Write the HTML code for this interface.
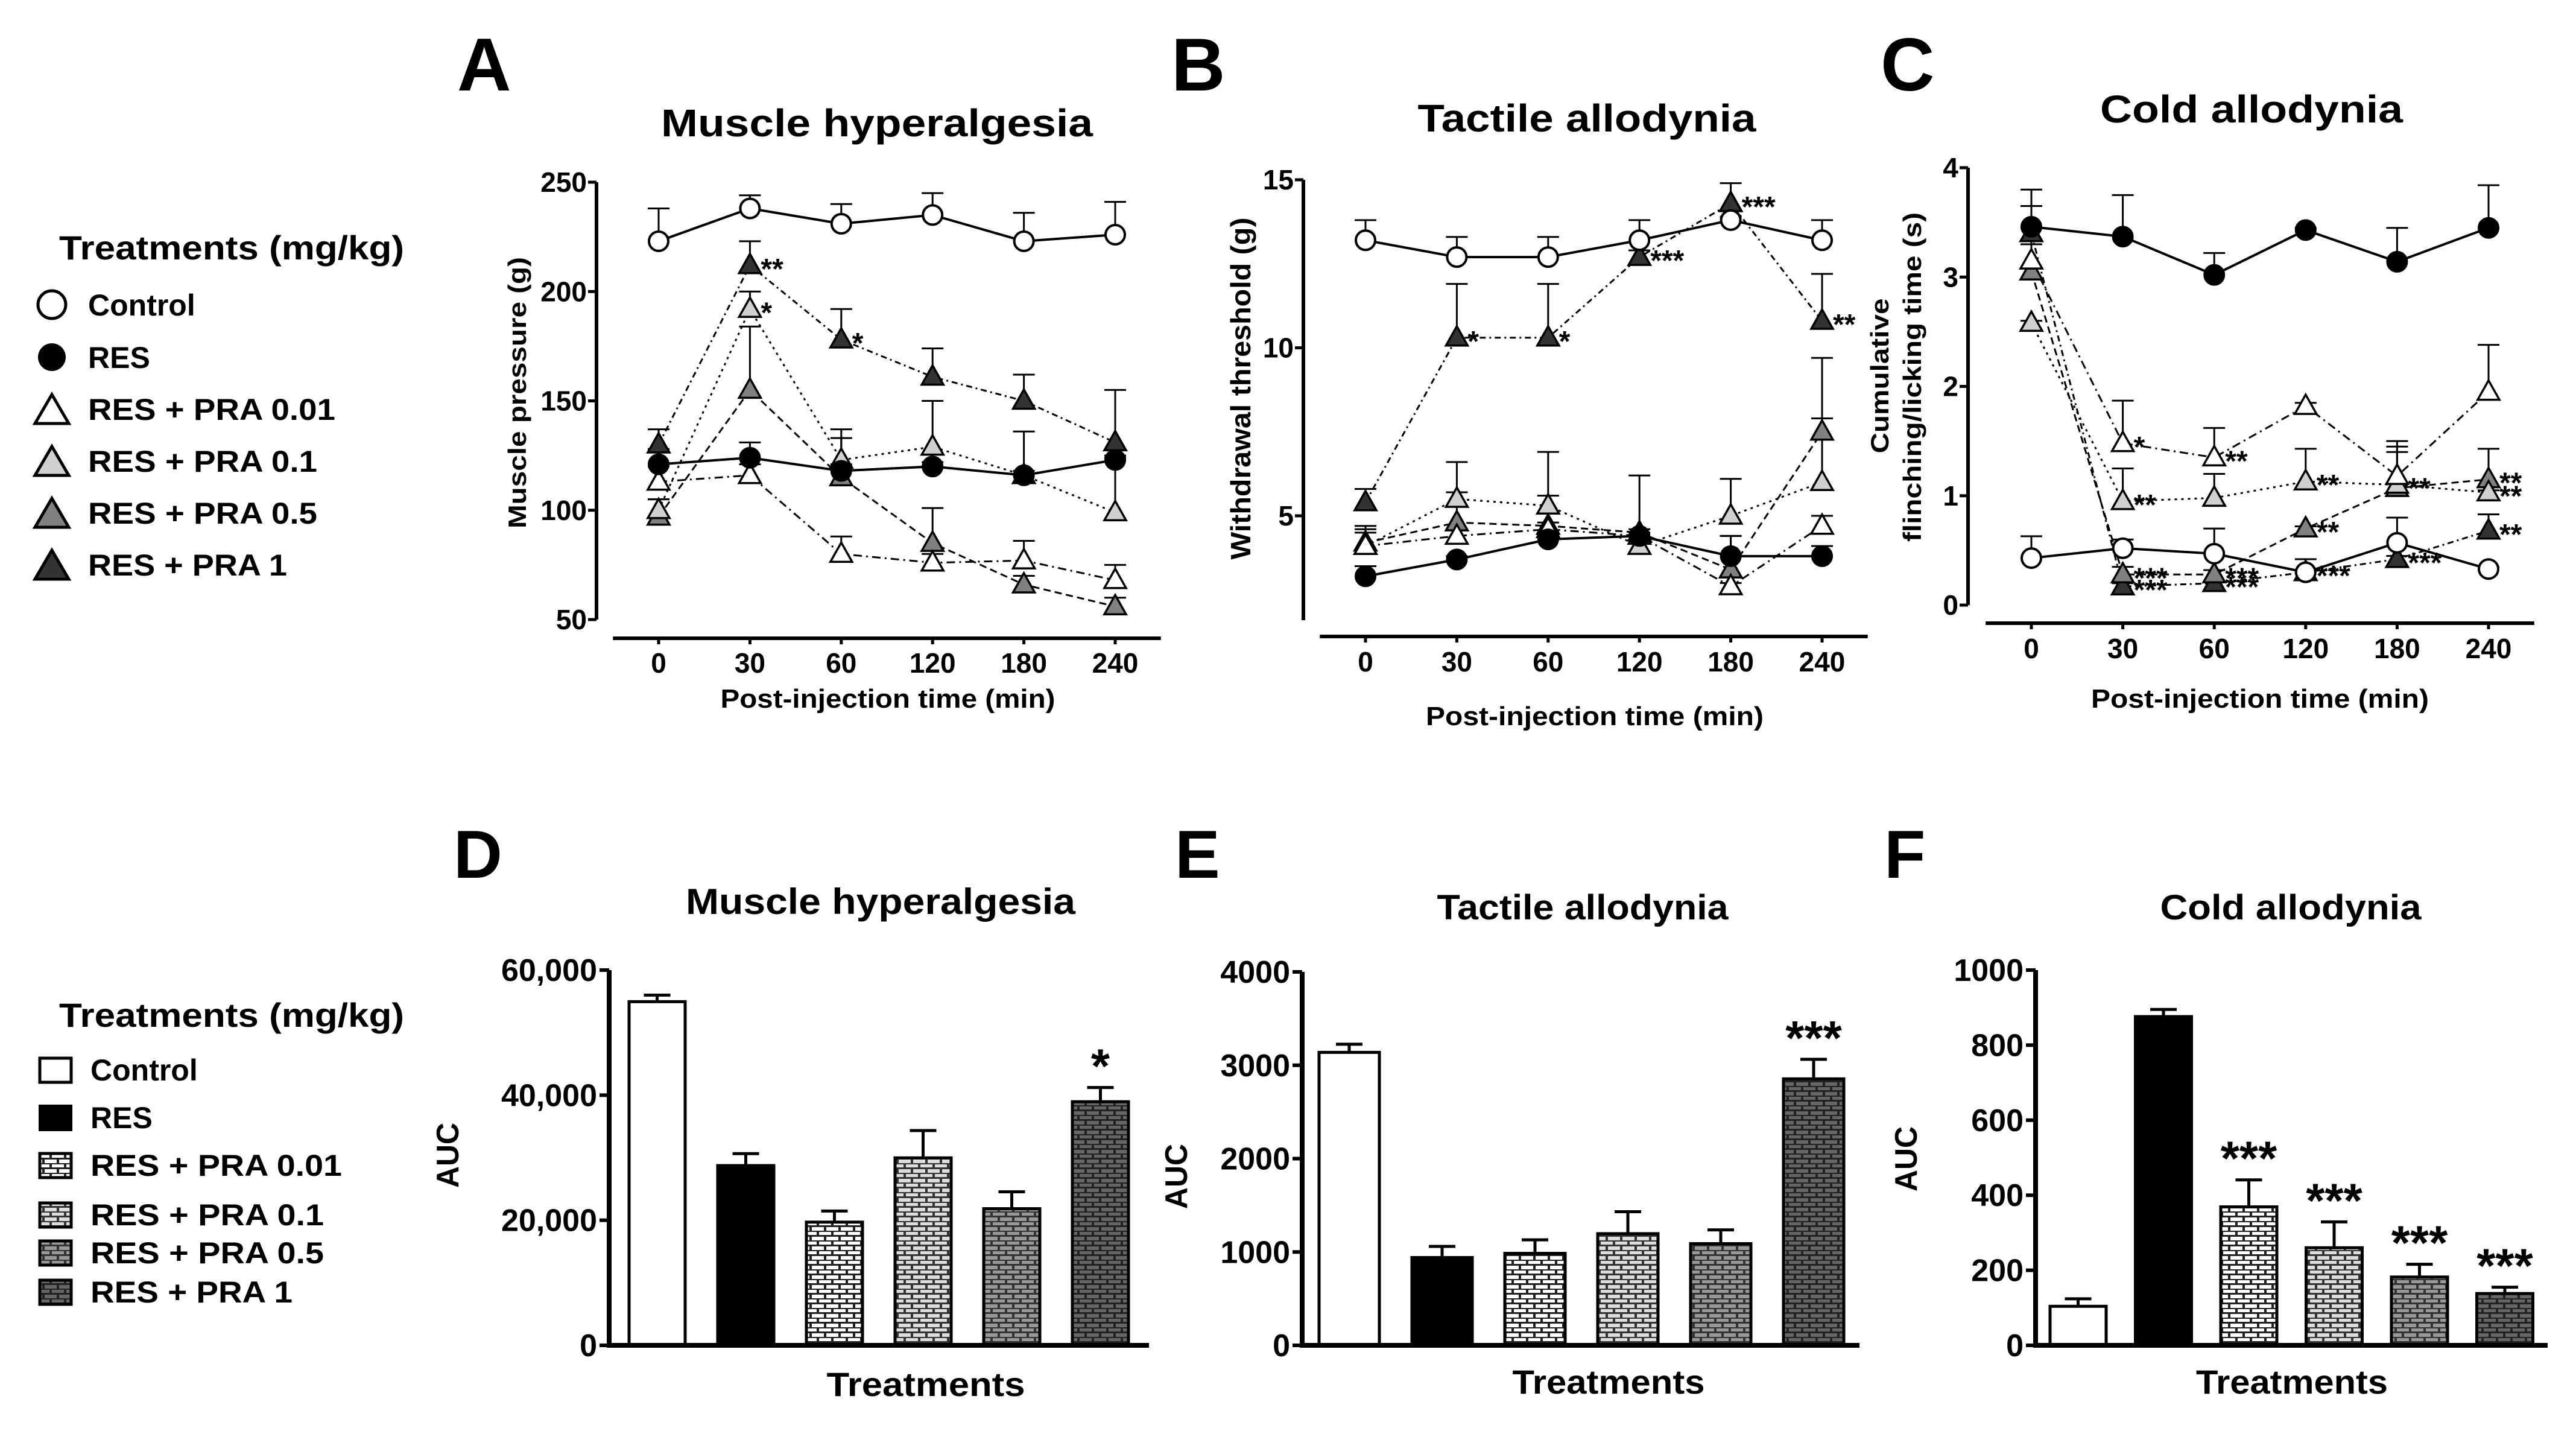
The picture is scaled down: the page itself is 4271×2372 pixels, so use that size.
<!DOCTYPE html>
<html><head><meta charset="utf-8">
<style>
html,body{margin:0;padding:0;background:#fff;}
svg{display:block;font-family:"Liberation Sans",Arial,sans-serif;font-weight:bold;}
</style></head>
<body>
<svg id="fig" width="4271" height="2372" viewBox="0 0 4271 2372" xmlns="http://www.w3.org/2000/svg">
<defs>
  <pattern id="brick001" width="24" height="16" patternUnits="userSpaceOnUse"><rect width="24" height="16" fill="#222"/><rect x="2" y="2" width="20" height="6" fill="#fff"/><rect x="-10" y="10" width="20" height="5" fill="#fff"/><rect x="14" y="10" width="20" height="5" fill="#fff"/></pattern>
  <pattern id="brick01" width="24" height="16" patternUnits="userSpaceOnUse"><rect width="24" height="16" fill="#333"/><rect x="2" y="2" width="20" height="6" fill="#ddd"/><rect x="-10" y="10" width="20" height="5" fill="#ddd"/><rect x="14" y="10" width="20" height="5" fill="#ddd"/></pattern>
  <pattern id="brick05" width="24" height="16" patternUnits="userSpaceOnUse"><rect width="24" height="16" fill="#333"/><rect x="2" y="2" width="20" height="6" fill="#999"/><rect x="-10" y="10" width="20" height="5" fill="#999"/><rect x="14" y="10" width="20" height="5" fill="#999"/></pattern>
  <pattern id="brick1" width="24" height="16" patternUnits="userSpaceOnUse"><rect width="24" height="16" fill="#222"/><rect x="2" y="2" width="20" height="6" fill="#666"/><rect x="-10" y="10" width="20" height="5" fill="#666"/><rect x="14" y="10" width="20" height="5" fill="#666"/></pattern>
</defs>
<g id="static">
  <text x="758" y="150" font-size="124">A</text>
  <text x="1942" y="150" font-size="124">B</text>
  <text x="3118" y="150" font-size="124">C</text>
  <text x="752" y="1455" font-size="112">D</text>
  <text x="1948" y="1455" font-size="112">E</text>
  <text x="3124" y="1455" font-size="112">F</text>
  <text x="1454" y="226" font-size="64" text-anchor="middle" textLength="716" lengthAdjust="spacingAndGlyphs">Muscle hyperalgesia</text>
  <text x="2631" y="218" font-size="64" text-anchor="middle" textLength="561" lengthAdjust="spacingAndGlyphs">Tactile allodynia</text>
  <text x="3733" y="203" font-size="64" text-anchor="middle" textLength="502" lengthAdjust="spacingAndGlyphs">Cold allodynia</text>
  <text x="1460" y="1515" font-size="60" text-anchor="middle" textLength="646" lengthAdjust="spacingAndGlyphs">Muscle hyperalgesia</text>
  <text x="2624" y="1524" font-size="58" text-anchor="middle" textLength="483" lengthAdjust="spacingAndGlyphs">Tactile allodynia</text>
  <text x="3798" y="1524" font-size="58" text-anchor="middle" textLength="433" lengthAdjust="spacingAndGlyphs">Cold allodynia</text>
  <text x="1472" y="1173" font-size="44" text-anchor="middle" textLength="555" lengthAdjust="spacingAndGlyphs">Post-injection time (min)</text>
  <text x="2644" y="1202" font-size="44" text-anchor="middle" textLength="560" lengthAdjust="spacingAndGlyphs">Post-injection time (min)</text>
  <text x="3747" y="1173" font-size="44" text-anchor="middle" textLength="560" lengthAdjust="spacingAndGlyphs">Post-injection time (min)</text>
  <text x="1535" y="2314" font-size="56" text-anchor="middle" textLength="329" lengthAdjust="spacingAndGlyphs">Treatments</text>
  <text x="2667" y="2310" font-size="56" text-anchor="middle" textLength="319" lengthAdjust="spacingAndGlyphs">Treatments</text>
  <text x="3800" y="2310" font-size="56" text-anchor="middle" textLength="318" lengthAdjust="spacingAndGlyphs">Treatments</text>
  <text transform="translate(872,651) rotate(-90)" font-size="42" text-anchor="middle" textLength="450" lengthAdjust="spacingAndGlyphs">Muscle pressure (g)</text>
  <text transform="translate(2073,644) rotate(-90)" font-size="46" text-anchor="middle" textLength="567" lengthAdjust="spacingAndGlyphs">Withdrawal threshold (g)</text>
  <text transform="translate(3131,623) rotate(-90)" font-size="42" text-anchor="middle" textLength="257" lengthAdjust="spacingAndGlyphs">Cumulative</text>
  <text transform="translate(3185,625) rotate(-90)" font-size="42" text-anchor="middle" textLength="546" lengthAdjust="spacingAndGlyphs">flinching/licking time (s)</text>
  <text transform="translate(760,1915) rotate(-90)" font-size="52" text-anchor="middle" textLength="108" lengthAdjust="spacingAndGlyphs">AUC</text>
  <text transform="translate(1968,1950) rotate(-90)" font-size="52" text-anchor="middle" textLength="108" lengthAdjust="spacingAndGlyphs">AUC</text>
  <text transform="translate(3178,1921) rotate(-90)" font-size="52" text-anchor="middle" textLength="108" lengthAdjust="spacingAndGlyphs">AUC</text>

  <g>
    <text x="98" y="430" font-size="56" textLength="572" lengthAdjust="spacingAndGlyphs">Treatments (mg/kg)</text>
    <g><circle cx="86" cy="505" r="23" fill="#fff" stroke="#000" stroke-width="5"/><text x="146" y="523" font-size="50">Control</text></g>
    <g><circle cx="86" cy="592" r="23" fill="#000"/><text x="146" y="610" font-size="50">RES</text></g>
    <g><polygon points="86,654 114,702 58,702" fill="#fff" stroke="#000" stroke-width="5"/><text x="146" y="696" font-size="50" textLength="410" lengthAdjust="spacingAndGlyphs">RES + PRA 0.01</text></g>
    <g><polygon points="86,740 114,788 58,788" fill="#d0d0d0" stroke="#000" stroke-width="5"/><text x="146" y="782" font-size="50" textLength="380" lengthAdjust="spacingAndGlyphs">RES + PRA 0.1</text></g>
    <g><polygon points="86,826 114,874 58,874" fill="#808080" stroke="#000" stroke-width="5"/><text x="146" y="868" font-size="50" textLength="380" lengthAdjust="spacingAndGlyphs">RES + PRA 0.5</text></g>
    <g><polygon points="86,912 114,960 58,960" fill="#333" stroke="#000" stroke-width="5"/><text x="146" y="954" font-size="50" textLength="330" lengthAdjust="spacingAndGlyphs">RES + PRA 1</text></g>
  </g>
  <g>
    <text x="98" y="1702" font-size="56" textLength="572" lengthAdjust="spacingAndGlyphs">Treatments (mg/kg)</text>
    <g><rect x="66" y="1754" width="52" height="40" fill="#fff" stroke="#000" stroke-width="5"/><text x="150" y="1791" font-size="50">Control</text></g>
    <g><rect x="64" y="1831" width="56" height="44" fill="#000"/><text x="150" y="1870" font-size="50">RES</text></g>
    <g><rect x="66" y="1912" width="52" height="40" fill="url(#brick001)" stroke="#000" stroke-width="5"/><text x="150" y="1949" font-size="50" textLength="417" lengthAdjust="spacingAndGlyphs">RES + PRA 0.01</text></g>
    <g><rect x="66" y="1994" width="52" height="40" fill="url(#brick01)" stroke="#000" stroke-width="5"/><text x="150" y="2031" font-size="50" textLength="387" lengthAdjust="spacingAndGlyphs">RES + PRA 0.1</text></g>
    <g><rect x="66" y="2057" width="52" height="40" fill="url(#brick05)" stroke="#000" stroke-width="5"/><text x="150" y="2094" font-size="50" textLength="387" lengthAdjust="spacingAndGlyphs">RES + PRA 0.5</text></g>
    <g><rect x="66" y="2122" width="52" height="40" fill="url(#brick1)" stroke="#000" stroke-width="5"/><text x="150" y="2159" font-size="50" textLength="335" lengthAdjust="spacingAndGlyphs">RES + PRA 1</text></g>
  </g>
</g>
</svg>
<script>
const timeLabels = ['0','30','60','120','180','240'];
const seriesNames = ['control','res','pra001','pra01','pra05','pra1'];

const aControl = [223,238,231,235,223,226];
const aControlErr = [238,244,240,245,236,241];
const aRes = [121,124,118,120,116,123];
const aResErr = [128,131,121,122,118,125];
const aP001 = [113,116,80,76,77,68];
const aP001Err = [120,121,88,80,86,75];
const aP01 = [100,192,123,129,116,99];
const aP01Err = [105,200,137,150,136,124];
const aP05 = [97,155,115,85,66,56];
const aP05Err = [105,184,133,101,70,60];
const aP1 = [130,212,178,161,150,131];
const aP1Err = [137,223,192,174,162,155];
const aTicks = [50,100,150,200,250];
const aStars = [[5,1,'**'],[3,1,'*'],[5,2,'*']];

const bControl = [13.2,12.7,12.7,13.2,13.8,13.2];
const bControlErr = [13.8,13.3,13.3,13.8,13.9,13.8];
const bRes = [3.2,3.7,4.3,4.4,3.8,3.8];
const bResErr = [3.5,3.8,4.4,4.5,4.4,4.1];
const bP001 = [4.1,4.4,4.6,4.4,2.9,4.7];
const bP001Err = [4.6,4.6,4.8,4.6,3.0,5.0];
const bP01 = [4.1,5.5,5.3,4.1,5.0,6.0];
const bP01Err = [4.5,6.6,5.6,4.3,6.1,7.9];
const bP05 = [4.2,4.8,4.7,4.5,3.4,7.5];
const bP05Err = [4.7,5.7,6.9,6.2,4.4,9.7];
const bP1 = [5.4,10.3,10.3,12.7,14.3,10.8];
const bP1Err = [5.8,11.9,11.9,12.9,14.9,12.2];
const bTicks = [5,10,15];
const bStars = [[5,1,'*'],[5,2,'*'],[5,3,'***'],[5,4,'***'],[5,5,'**']];

const cControl = [0.43,0.52,0.47,0.30,0.57,0.33];
const cControlErr = [0.63,0.60,0.70,0.42,0.80,0.35];
const cRes = [3.46,3.37,3.02,3.43,3.14,3.45];
const cResErr = [3.65,3.75,3.22,3.45,3.45,3.84];
const cP001 = [3.15,1.48,1.35,1.82,1.18,1.95];
const cP001Err = [3.80,1.87,1.62,1.85,1.50,2.38];
const cP01 = [2.58,0.95,0.98,1.13,1.10,1.03];
const cP01Err = [2.60,1.25,1.20,1.43,1.45,1.05];
const cP05 = [3.05,0.28,0.28,0.70,1.07,1.15];
const cP05Err = [3.30,0.35,0.32,0.72,1.40,1.43];
const cP1 = [3.40,0.17,0.20,0.30,0.42,0.68];
const cP1Err = [3.45,0.20,0.22,0.32,0.45,0.83];
const cTicks = [0,1,2,3,4];
const cStars = [[2,1,'*'],[2,2,'**'],[3,1,'**'],[3,3,'**'],[4,3,'**'],[3,4,'**'],[4,5,'**'],[3,5,'**'],[5,5,'**'],[4,1,'***'],[5,1,'***'],[4,2,'***'],[5,2,'***'],[5,3,'***'],[5,4,'***']];

const barCategories = ['Control','RES','RES + PRA 0.01','RES + PRA 0.1','RES + PRA 0.5','RES + PRA 1'];
const dValues = [54950,28740,19700,29970,21850,38950];
const dErr = [56000,30650,21480,34340,24550,41230];
const dTicks = [0,20000,40000,60000];
const dTickLabels = ['0','20,000','40,000','60,000'];
const dStars = ['','','','','','*'];
const eValues = [3138,940,985,1196,1089,2854];
const eErr = [3225,1060,1130,1431,1237,3064];
const eTicks = [0,1000,2000,3000,4000];
const eTickLabels = ['0','1000','2000','3000','4000'];
const eStars = ['','','','','','***'];
const fValues = [104,876,369,260,182,138];
const fErr = [124,895,441,329,216,155];
const fTicks = [0,200,400,600,800,1000];
const fTickLabels = ['0','200','400','600','800','1000'];
const fStars = ['','','***','***','***','***'];

const NS = 'http://www.w3.org/2000/svg';
const svg = document.getElementById('fig');
function mk(tag, attrs, parent) {
  const e = document.createElementNS(NS, tag);
  for (const k in attrs) e.setAttribute(k, attrs[k]);
  (parent || svg).appendChild(e);
  return e;
}
const fills = ['#fff','#000','#fff','#d0d0d0','#808080','#333'];
const dashes = ['', '', '14 7 3 7', '4 7', '12 7', '10 6 3 6'];
const barFills = ['#fff','#000','url(#brick001)','url(#brick01)','url(#brick05)','url(#brick1)'];

function linePanel(p) {
  const g = mk('g', {});
  
  
  const yS = v => p.y0 + (v - p.v0) * (p.y1 - p.y0) / (p.v1 - p.v0);
  const xS = i => p.x0 + i * p.step;
  const ya = mk('line', {x1:p.ax, x2:p.ax, y1:p.axTop, y2:p.axBot, stroke:'#000','stroke-width':6}, g);
  
  
  const xa = mk('line', {x1:xS(0)-p.step*0.5, x2:xS(5)+p.step*0.5, y1:p.xay, y2:p.xay, stroke:'#000','stroke-width':6}, g);
  
  
  p.ticks.forEach(t => {
    mk('line', {x1:p.ax-14, x2:p.ax, y1:yS(t), y2:yS(t), stroke:'#000','stroke-width':5}, g);
    const tl = mk('text', {x:p.ax-16, y:yS(t)+16, 'font-size':46, 'text-anchor':'end'}, g);
    tl.textContent = t;
    
    
  });
  timeLabels.forEach((lab, i) => {
    mk('line', {x1:xS(i), x2:xS(i), y1:p.xay, y2:p.xay+10, stroke:'#000','stroke-width':5}, g);
    const tl = mk('text', {x:xS(i), y:p.tly, 'font-size':46, 'text-anchor':'middle'}, g);
    tl.textContent = lab;
    
    
  });
  p.series.forEach((s, k) => {
    const pts = s.map((v, i) => xS(i) + ',' + yS(v)).join(' ');
    const pl = mk('polyline', {points:pts, fill:'none', stroke:'#000', 'stroke-width': k < 2 ? 4 : 3, 'stroke-dasharray': dashes[k]}, g);
    
    
  });
  p.errs.forEach((s, k) => {
    s.forEach((v, i) => {
      const x = xS(i), yv = yS(p.series[k][i]), ye = yS(v);
      const eb = mk('path', {d:`M${x},${yv} L${x},${ye} M${x-18},${ye} L${x+18},${ye}`, stroke:'#000', 'stroke-width':3, fill:'none'}, g);
      
      
    });
  });
  const order = [5,4,3,2,1,0];
  order.forEach(k => {
    p.series[k].forEach((v, i) => {
      const x = xS(i), y = yS(v);
      let m;
      if (k < 2) m = mk('circle', {cx:x, cy:y, r:16, fill:fills[k], stroke:'#000', 'stroke-width':4}, g);
      else m = mk('polygon', {points:`${x},${y-19} ${x+18},${y+13} ${x-18},${y+13}`, fill:fills[k], stroke:'#000', 'stroke-width':3.5}, g);
      
      
    });
  });
  p.stars.forEach(st => {
    const t = mk('text', {x:xS(st[1]) + 18, y:yS(p.series[st[0]][st[1]]) + 22, 'font-size':48}, g);
    t.textContent = st[2];
    
    
  });
}

linePanel({name:'chart-a-muscle-hyperalgesia', v0:50, v1:250, y0:1027, y1:302, x0:1092, step:151.4,
  ax:989, axTop:302, axBot:1027, xay:1058, tly:1115, ticks:aTicks,
  series:[aControl,aRes,aP001,aP01,aP05,aP1], errs:[aControlErr,aResErr,aP001Err,aP01Err,aP05Err,aP1Err], stars:aStars});
linePanel({name:'chart-b-tactile-allodynia', v0:5, v1:15, y0:855, y1:298, x0:2264, step:151.4,
  ax:2161, axTop:298, axBot:1028, xay:1055, tly:1113, ticks:bTicks,
  series:[bControl,bRes,bP001,bP01,bP05,bP1], errs:[bControlErr,bResErr,bP001Err,bP01Err,bP05Err,bP1Err], stars:bStars});
linePanel({name:'chart-c-cold-allodynia', v0:0, v1:4, y0:1003, y1:278, x0:3368, step:151.6,
  ax:3263, axTop:278, axBot:1003, xay:1033, tly:1091, ticks:cTicks,
  series:[cControl,cRes,cP001,cP01,cP05,cP1], errs:[cControlErr,cResErr,cP001Err,cP01Err,cP05Err,cP1Err], stars:cStars});

function barPanel(p) {
  const g = mk('g', {});
  
  
  const yS = v => p.yBase - v * (p.yBase - p.yTop) / p.vMax;
  p.values.forEach((v, i) => {
    const x = p.x0 + i * p.step, w = p.w;
    const ye = yS(p.err[i]);
    const eb = mk('path', {d:`M${x+w/2},${yS(v)} L${x+w/2},${ye} M${x+w/2-22},${ye} L${x+w/2+22},${ye}`, stroke:'#000','stroke-width':5, fill:'none'}, g);
    
    
    const r = mk('rect', {x:x, y:yS(v), width:w, height:p.yBase - yS(v), fill:barFills[i], stroke:'#000', 'stroke-width':5}, g);
    
    
    if (p.stars[i]) {
      const t = mk('text', {x:x+w/2, y:ye - 8, 'font-size':80, 'text-anchor':'middle'}, g);
      t.textContent = p.stars[i];
      
      
    }
  });
  const ya = mk('line', {x1:p.ax, x2:p.ax, y1:p.yTop, y2:p.yBase+4, stroke:'#000','stroke-width':8}, g);
  
  
  const xa = mk('line', {x1:p.ax-4, x2:p.xEnd, y1:p.yBase, y2:p.yBase, stroke:'#000','stroke-width':8}, g);
  
  
  p.ticks.forEach((t, j) => {
    mk('line', {x1:p.ax-16, x2:p.ax, y1:yS(t), y2:yS(t), stroke:'#000','stroke-width':6}, g);
    const tl = mk('text', {x:p.ax-20, y:yS(t)+18, 'font-size':52, 'text-anchor':'end'}, g);
    tl.textContent = p.tickLabels[j];
    
    
  });
}
barPanel({name:'chart-d-auc-muscle', values:dValues, err:dErr, ticks:dTicks, tickLabels:dTickLabels, stars:dStars,
  vMax:60000, yTop:1608, yBase:2230, ax:1010, xEnd:1905, x0:1043, step:147, w:93});
barPanel({name:'chart-e-auc-tactile', values:eValues, err:eErr, ticks:eTicks, tickLabels:eTickLabels, stars:eStars,
  vMax:4000, yTop:1611, yBase:2230, ax:2159, xEnd:3083, x0:2187, step:154, w:100});
barPanel({name:'chart-f-auc-cold', values:fValues, err:fErr, ticks:fTicks, tickLabels:fTickLabels, stars:fStars,
  vMax:1000, yTop:1608, yBase:2230, ax:3375, xEnd:4224, x0:3399, step:141.5, w:93});
</script>
</body></html>
